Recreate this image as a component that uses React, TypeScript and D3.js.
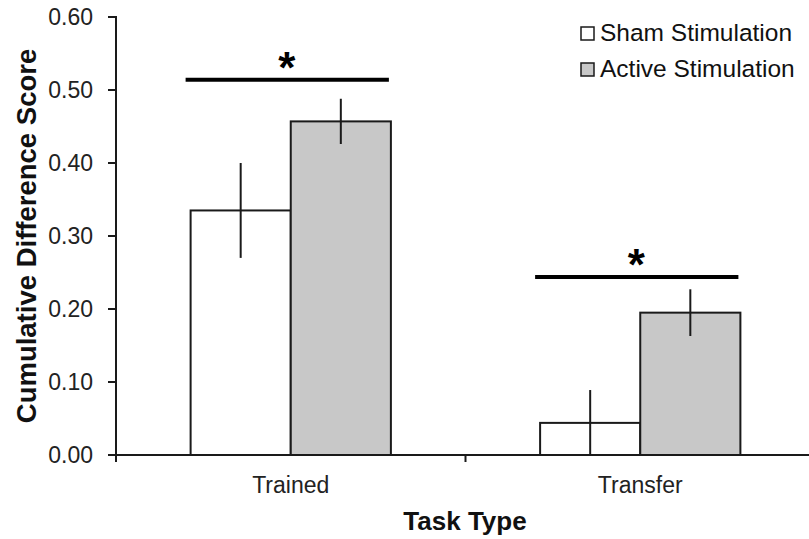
import React from 'react';
import * as d3 from 'd3';

const categories = ['Trained', 'Transfer'];
const seriesNames = ['Sham Stimulation', 'Active Stimulation'];
const shamValues = [0.335, 0.044];
const shamErrors = [0.065, 0.045];
const activeValues = [0.457, 0.195];
const activeErrors = [0.031, 0.032];
const sigLevels = [0.514, 0.244];
const yTicks = [0, 0.1, 0.2, 0.3, 0.4, 0.5, 0.6];

const W = 809;
const H = 539;
const FONT = '"Liberation Sans", Arial, Helvetica, sans-serif';
const fills = ['#ffffff', '#c8c8c8'];

export default function App() {
  const y = d3.scaleLinear().domain([0, 0.6]).range([455, 17]);
  const x0 = d3.scaleBand().domain(categories).range([116, 815]).paddingInner(0).paddingOuter(0);
  const x1 = d3.scaleBand().domain(seriesNames).range([0, x0.bandwidth()]).paddingInner(0).paddingOuter(0.745);

  const values = [shamValues, activeValues];
  const errors = [shamErrors, activeErrors];

  // x axis ticks sit on the band boundaries (Excel style)
  const xTickPos = categories.map(c => x0(c)!).concat([x0(categories[categories.length - 1])! + x0.bandwidth()]);

  return (
    <svg width={W} height={H} style={{position: 'absolute', left: 0, top: 0, background: '#fff'}} fontFamily={FONT}>
      {/* bars */}
      {categories.map((c, i) => (
        <g key={c} transform={`translate(${x0(c)},0)`}>
          {seriesNames.map((s, j) => {
            const v = values[j][i];
            const e = errors[j][i];
            const bx = x1(s)!;
            const cx = bx + x1.bandwidth() / 2;
            return (
              <g key={s}>
                <rect x={bx} y={y(v)} width={x1.bandwidth()} height={y(0) - y(v)}
                  fill={fills[j]} stroke="#1a1a1a" strokeWidth={2} />
                <line x1={cx} x2={cx} y1={Math.min(y(v - e), y(0))} y2={y(v + e)} stroke="#1a1a1a" strokeWidth={2} />
              </g>
            );
          })}
          {/* significance bar */}
          <line x1={x1(seriesNames[0])! - 5} x2={x1(seriesNames[1])! + x1.bandwidth() - 2}
            y1={y(sigLevels[i])} y2={y(sigLevels[i])} stroke="#000" strokeWidth={4} />
          <text x={x0.bandwidth() / 2 - 4} y={y(sigLevels[i]) + 3} textAnchor="middle"
            fontSize={44} fontWeight="bold" fill="#000">*</text>
        </g>
      ))}

      {/* y axis */}
      <line x1={116} x2={116} y1={y(0.6) - 1} y2={y(0) + 1} stroke="#1a1a1a" strokeWidth={2} />
      {yTicks.map(t => (
        <g key={t}>
          <line x1={108} x2={116} y1={y(t)} y2={y(t)} stroke="#1a1a1a" strokeWidth={2} />
          <text x={93} y={y(t) + 8} textAnchor="end" fontSize={23} fill="#222">{d3.format('.2f')(t)}</text>
        </g>
      ))}

      {/* x axis */}
      <line x1={115} x2={W} y1={y(0)} y2={y(0)} stroke="#1a1a1a" strokeWidth={2} />
      {xTickPos.map((p, i) => (
        <line key={i} x1={p} x2={p} y1={y(0)} y2={y(0) + 7} stroke="#1a1a1a" strokeWidth={2} />
      ))}
      {categories.map(c => (
        <text key={c} x={x0(c)! + x0.bandwidth() / 2} y={493} textAnchor="middle" fontSize={23} fill="#222">{c}</text>
      ))}

      {/* axis titles */}
      <text x={465} y={530} textAnchor="middle" fontSize={26} fontWeight="bold" fill="#111">Task Type</text>
      <text transform={`translate(36,236) rotate(-90)`} textAnchor="middle" fontSize={27.5}
        fontWeight="bold" fill="#111">Cumulative Difference Score</text>

      {/* legend */}
      {seriesNames.map((s, j) => (
        <g key={s} transform={`translate(581,${27 + j * 36})`}>
          <rect x={0} y={0} width={13} height={13} fill={fills[j]} stroke="#1a1a1a" strokeWidth={1.5} />
          <text x={19} y={14} fontSize={24.5} fill="#111">{s}</text>
        </g>
      ))}
    </svg>
  );
}
